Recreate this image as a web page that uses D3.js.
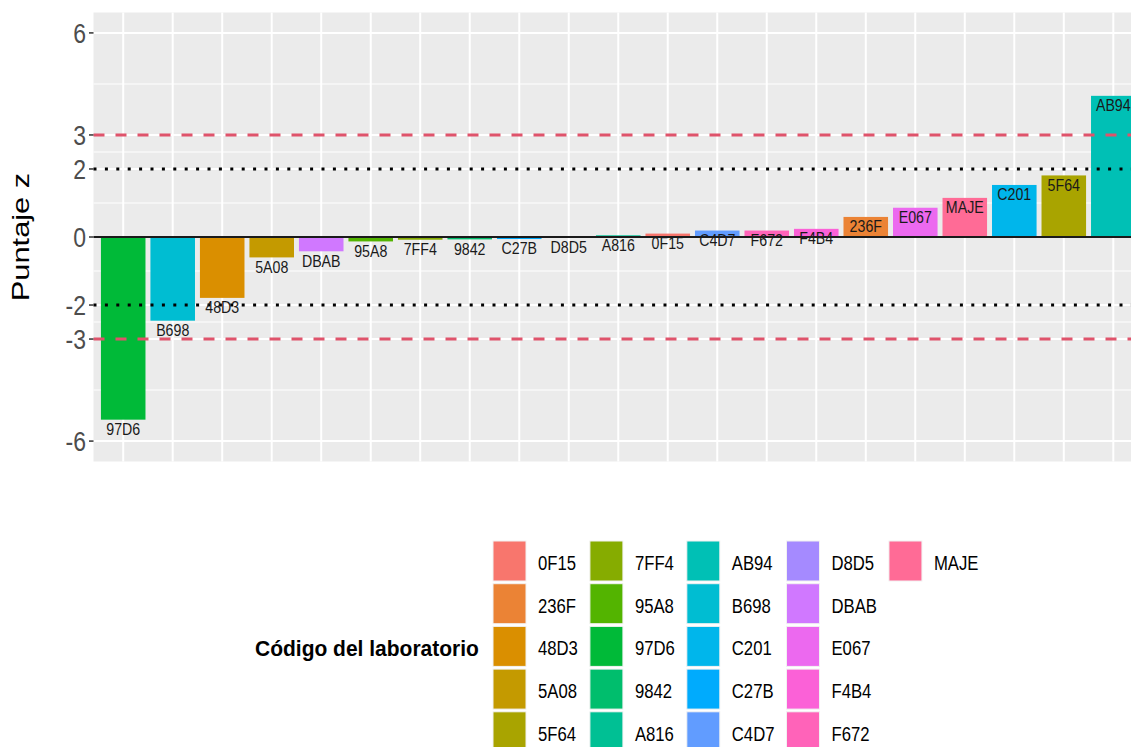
<!DOCTYPE html>
<html>
<head>
<meta charset="utf-8">
<script src="https://cdn.jsdelivr.net/npm/d3@7"></script>
<style>
  html, body { margin: 0; padding: 0; background: #ffffff; }
  svg { display: block; font-family: "Liberation Sans", Arial, sans-serif; }
</style>
</head>
<body>
<svg id="chart" width="1131" height="747"></svg>
<script>
// Laboratory codes in plotting order (sorted by z-score)
const labCodes = ["97D6","B698","48D3","5A08","DBAB","95A8","7FF4","9842","C27B","D8D5",
                  "A816","0F15","C4D7","F672","F4B4","236F","E067","MAJE","C201","5F64","AB94"];
// z-score of each laboratory
const zScores = [-5.37,-2.46,-1.79,-0.60,-0.42,-0.13,-0.08,-0.07,-0.06,-0.02,
                 0.05,0.10,0.19,0.19,0.24,0.59,0.86,1.15,1.53,1.81,4.15];
// y axis breaks and labels
const yBreaks = [-6,-3,-2,0,2,3,6];
const yTickLabels = ["-6","-3","-2","0","2","3","6"];
// reference limits
const warnLimits = [-2, 2];
const actionLimits = [-3, 3];

const yTitle = "Puntaje z";
const legendTitle = "Código del laboratorio";

const svg = d3.select("#chart");

// ggplot-style hue palette (polar LUV, c = 100, l = 65)
function hueColor(h, c, l) {
  const hr = h * Math.PI / 180;
  const u = c * Math.cos(hr), v = c * Math.sin(hr);
  const Xn = 95.047, Yn = 100, Zn = 108.883;
  const Y = l > 8 ? Yn * Math.pow((l + 16) / 116, 3) : Yn * l / 903.3;
  const den = Xn + 15 * Yn + 3 * Zn;
  const un = 4 * Xn / den, vn = 9 * Yn / den;
  const up = u / (13 * l) + un, vp = v / (13 * l) + vn;
  const X = Y * 9 * up / (4 * vp);
  const Z = Y * (12 - 3 * up - 20 * vp) / (4 * vp);
  const x = X / 100, y = Y / 100, z = Z / 100;
  const lin = [
    3.240479 * x - 1.537150 * y - 0.498535 * z,
    -0.969256 * x + 1.875992 * y + 0.041556 * z,
    0.055648 * x - 0.204043 * y + 1.057311 * z
  ];
  const g = lin.map(t => {
    const s = t <= 0.0031308 ? 12.92 * t : 1.055 * Math.pow(t, 1 / 2.4) - 0.055;
    return Math.round(Math.max(0, Math.min(1, s)) * 255);
  });
  return d3.rgb(g[0], g[1], g[2]).formatHex();
}
const legendLevels = labCodes.slice().sort((a, b) => d3.ascending(a, b));
const nLev = legendLevels.length;
const palette = legendLevels.map((d, i) => hueColor((15 + i * 360 / nLev) % 360, 100, 65));
const color = d3.scaleOrdinal().domain(legendLevels).range(palette);

// panel geometry
const panel = { left: 93.5, right: 1143, top: 12.5, bottom: 461.5 };

const x = d3.scaleBand()
  .domain(labCodes)
  .range([panel.left, panel.right])
  .paddingInner(0.1)
  .paddingOuter(0.15);

const y = d3.scaleLinear()
  .domain([-6.6, 6.6])
  .range([panel.bottom, panel.top]);

// helper: text with a vertical stretch
function stretchedText(g, tx, ty, sy, str) {
  return g.append("text")
    .attr("transform", `translate(${tx},${ty}) scale(1,${sy})`)
    .text(str);
}

// panel background
svg.append("rect")
  .attr("x", panel.left).attr("y", panel.top)
  .attr("width", panel.right - panel.left)
  .attr("height", panel.bottom - panel.top)
  .attr("fill", "#EBEBEB");

// minor grid lines (midpoints between breaks)
const minorBreaks = d3.pairs(yBreaks).map(([a, b]) => (a + b) / 2);
svg.append("g").selectAll("line").data(minorBreaks).join("line")
  .attr("x1", panel.left).attr("x2", panel.right)
  .attr("y1", d => y(d)).attr("y2", d => y(d))
  .attr("stroke", "#ffffff").attr("stroke-width", 1.1);

// major grid lines
svg.append("g").selectAll("line").data(yBreaks).join("line")
  .attr("x1", panel.left).attr("x2", panel.right)
  .attr("y1", d => y(d)).attr("y2", d => y(d))
  .attr("stroke", "#ffffff").attr("stroke-width", 2);

svg.append("g").selectAll("line").data(labCodes).join("line")
  .attr("x1", d => x(d) + x.bandwidth() / 2).attr("x2", d => x(d) + x.bandwidth() / 2)
  .attr("y1", panel.top).attr("y2", panel.bottom)
  .attr("stroke", "#ffffff").attr("stroke-width", 2);

// bars
const bars = labCodes.map((code, i) => ({ code, z: zScores[i] }));
svg.append("g").selectAll("rect").data(bars).join("rect")
  .attr("x", d => x(d.code))
  .attr("width", x.bandwidth())
  .attr("y", d => y(Math.max(0, d.z)))
  .attr("height", d => Math.abs(y(d.z) - y(0)))
  .attr("fill", d => color(d.code));

// zero line
svg.append("line")
  .attr("x1", panel.left).attr("x2", panel.right)
  .attr("y1", y(0)).attr("y2", y(0))
  .attr("stroke", "#1a1a1a").attr("stroke-width", 2);

// action limits (dashed) and warning limits (dotted)
svg.append("g").selectAll("line").data(actionLimits).join("line")
  .attr("x1", panel.left).attr("x2", panel.right)
  .attr("y1", d => y(d)).attr("y2", d => y(d))
  .attr("stroke", "#DF536B").attr("stroke-width", 3)
  .attr("stroke-dasharray", "11,11");

svg.append("g").selectAll("line").data(warnLimits).join("line")
  .attr("x1", panel.left).attr("x2", panel.right)
  .attr("y1", d => y(d)).attr("y2", d => y(d))
  .attr("stroke", "#000000").attr("stroke-width", 3)
  .attr("stroke-dasharray", "3,8.4");

// bar labels
const labelG = svg.append("g")
  .attr("font-size", 14.2).attr("fill", "#1a1a1a").attr("text-anchor", "middle");
bars.forEach(d => {
  stretchedText(labelG, x(d.code) + x.bandwidth() / 2, y(d.z) + 15.3, 1.18, d.code);
});

// y axis ticks and labels
const axisG = svg.append("g");
axisG.selectAll("line").data(yBreaks).join("line")
  .attr("x1", panel.left - 4.5).attr("x2", panel.left)
  .attr("y1", d => y(d)).attr("y2", d => y(d))
  .attr("stroke", "#333333").attr("stroke-width", 1.5);
const tickG = axisG.append("g")
  .attr("font-size", 23).attr("fill", "#4D4D4D").attr("text-anchor", "end");
yBreaks.forEach((b, i) => {
  stretchedText(tickG, panel.left - 7.5, y(b), 1.18, yTickLabels[i]).attr("dy", "0.36em");
});

// y axis title
svg.append("text")
  .attr("transform", `translate(28.5,${(panel.top + panel.bottom) / 2}) rotate(-90) scale(1.3,1)`)
  .attr("text-anchor", "middle")
  .attr("font-size", 23.7).attr("fill", "#000000")
  .text(yTitle);

// legend
const leg = { titleX: 255, keyX0: 493, keyTop: 541, keyW: 33, keyH: 40, pitch: 42.7, rows: 5,
              textGap: 12, colGap: 12 };
const legG = svg.append("g");
stretchedText(legG, leg.titleX, leg.keyTop + leg.rows * leg.pitch / 2, 1.08, legendTitle)
  .attr("font-size", 21).attr("font-weight", "bold").attr("fill", "#000000")
  .attr("dy", "0.36em");

const nCols = Math.ceil(legendLevels.length / leg.rows);
let colX = leg.keyX0;
for (let c = 0; c < nCols; c++) {
  const items = legendLevels.slice(c * leg.rows, (c + 1) * leg.rows);
  let maxW = 0;
  items.forEach((code, r) => {
    const ky = leg.keyTop + r * leg.pitch;
    legG.append("rect")
      .attr("x", colX).attr("y", ky)
      .attr("width", leg.keyW).attr("height", leg.keyH)
      .attr("fill", color(code))
      .attr("stroke", "#f2f2f2").attr("stroke-width", 1);
    const t = stretchedText(legG, colX + leg.keyW + leg.textGap, ky + leg.keyH / 2 + 1.5, 1.25, code)
      .attr("font-size", 16.7).attr("fill", "#000000").attr("dy", "0.36em");
    maxW = Math.max(maxW, t.node().getComputedTextLength());
  });
  colX += leg.keyW + leg.textGap + maxW + leg.colGap;
}
</script>
</body>
</html>
